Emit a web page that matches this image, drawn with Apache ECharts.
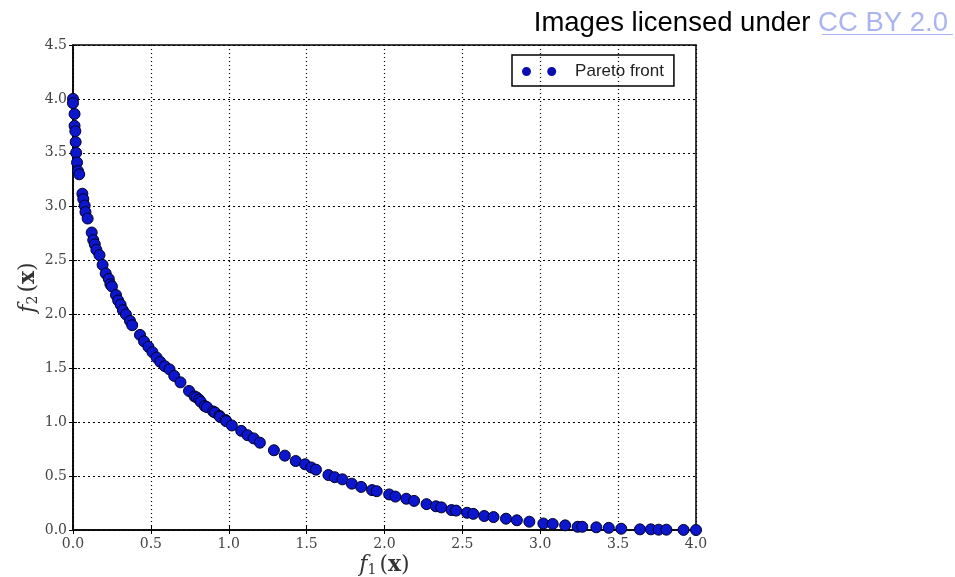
<!DOCTYPE html>
<html>
<head>
<meta charset="utf-8">
<script src="https://cdn.jsdelivr.net/npm/echarts@6/dist/echarts.min.js"></script>
<style>
  html, body { margin: 0; padding: 0; background: #fff; }
  #echarts_container { width: 955px; height: 577px; }
</style>
</head>
<body>
<div id="echarts_container"></div>
<script>
// values
var f1 = [0.00, 0.00, 0.01, 0.01, 0.015, 0.017, 0.02, 0.026, 0.032, 0.04,
  0.06, 0.066, 0.075, 0.08, 0.094, 0.12, 0.13, 0.14, 0.15, 0.17,
  0.19, 0.21, 0.23, 0.24, 0.25, 0.276, 0.29, 0.306, 0.32, 0.34,
  0.366, 0.38, 0.43, 0.456, 0.484, 0.51, 0.537, 0.56, 0.59, 0.62,
  0.65, 0.69, 0.745, 0.78, 0.794, 0.81, 0.82, 0.846, 0.86, 0.90,
  0.912, 0.94, 0.944, 0.98, 0.983, 1.02, 1.08, 1.12, 1.16, 1.20,
  1.29, 1.36, 1.43, 1.49, 1.53, 1.56, 1.64, 1.68, 1.73, 1.79,
  1.85, 1.92, 1.95, 2.03, 2.07, 2.14, 2.19, 2.27, 2.33, 2.365,
  2.43, 2.46, 2.53, 2.57, 2.64, 2.70, 2.78, 2.85, 2.93, 3.02,
  3.08, 3.16, 3.24, 3.27, 3.36, 3.44, 3.52, 3.64, 3.71, 3.76,
  3.81, 3.92, 4.00]
var f2 = [4.00, 3.96, 3.86, 3.75, 3.70, 3.60, 3.50, 3.41, 3.33, 3.30,
  3.12, 3.07, 3.01, 2.95, 2.89, 2.76, 2.69, 2.65, 2.60, 2.55,
  2.46, 2.38, 2.33, 2.28, 2.26, 2.18, 2.13, 2.09, 2.04, 2.00,
  1.94, 1.90, 1.81, 1.75, 1.70, 1.65, 1.60, 1.56, 1.52, 1.49,
  1.43, 1.37, 1.29, 1.24, 1.23, 1.21, 1.19, 1.15, 1.14, 1.10,
  1.09, 1.06, 1.05, 1.02, 1.01, 0.97, 0.92, 0.88, 0.85, 0.81,
  0.74, 0.69, 0.64, 0.61, 0.58, 0.56, 0.51, 0.49, 0.47, 0.43,
  0.40, 0.37, 0.36, 0.33, 0.31, 0.29, 0.27, 0.24, 0.22, 0.21,
  0.185, 0.18, 0.16, 0.15, 0.13, 0.12, 0.105, 0.09, 0.077, 0.06,
  0.056, 0.043, 0.03, 0.03, 0.025, 0.02, 0.012, 0.006, 0.006, 0.003,
  0.003, 0.001, 0.0]

var pts = f1.map(function (v, i) { return [v, f2[i]] })

var chartDom = document.getElementById('echarts_container');
var myChart = echarts.init(chartDom);

var serif = "'DejaVu Serif', 'Liberation Serif', serif"
var sans = "'Liberation Sans', Arial, sans-serif"
var labelStyle = { fontFamily: serif, fontSize: 14, color: '#444' }
var mathRich = {
    i: { fontFamily: serif, fontStyle: 'italic', fontSize: 22, color: '#333' },
    s: { fontFamily: serif, fontSize: 14, color: '#333', verticalAlign: 'bottom', padding: [10, 3, 0, 0] },
    n: { fontFamily: serif, fontSize: 22, color: '#333' },
    b: { fontFamily: serif, fontWeight: 'bold', fontSize: 22, color: '#333' }
}

var option = {
    animation: false,
    title: {
        right: 2,
        top: 4,
        text: '{a|Images licensed under }{l|CC BY 2.0}',
        textStyle: {
            fontWeight: 'normal',
            rich: {
                a: { fontFamily: sans, fontWeight: 'normal', fontSize: 27.5, color: '#000' },
                l: { fontFamily: sans, fontWeight: 'normal', fontSize: 27.5, color: '#aab4f0' }
            }
        }
    },
    graphic: [
        { type: 'rect', right: 2, top: 34, shape: { width: 131, height: 1 }, style: { fill: '#aab4f0' } }
    ],
    legend: {
        left: 512,
        top: 55,
        padding: [8, 10, 6, 10],
        borderColor: '#000',
        borderWidth: 1.5,
        borderRadius: 0,
        itemWidth: 36,
        itemHeight: 9,
        icon: 'path://M0,5a5,5 0 1,0 10,0a5,5 0 1,0 -10,0zM28,5a5,5 0 1,0 10,0a5,5 0 1,0 -10,0z',
        itemStyle: { color: '#0a10b0', borderWidth: 0 },
        textStyle: { fontFamily: sans, fontSize: 17, color: '#222', padding: [0, 0, 0, 13] },
        data: ['Pareto front']
    },
    grid: {
        left: 73,
        right: 259,
        top: 45,
        bottom: 47,
        outerBoundsMode: 'none',
        show: true,
        borderColor: '#000',
        borderWidth: 1.5,
        backgroundColor: '#fff'
    },
    xAxis: [{
        type: 'value',
        min: 0, max: 4, interval: 0.5,
        name: '{i|f}{s|1}{n|(}{b|x}{n|)}',
        nameLocation: 'middle',
        nameGap: 23,
        nameMoveOverlap: false,
        nameTextStyle: { rich: mathRich },
        axisLine: { show: true, lineStyle: { color: '#000', width: 1.5 } },
        axisTick: { inside: true, length: 4, lineStyle: { color: '#000' } },
        axisLabel: Object.assign({ margin: 7, formatter: function (v) { return v.toFixed(1) } }, labelStyle),
        splitLine: { show: true, lineStyle: { type: [1, 3], color: '#000', width: 1.2 } }
    }, {
        type: 'value', position: 'top',
        min: 0, max: 4, interval: 0.5,
        axisLine: { show: false },
        axisTick: { inside: true, length: 4, lineStyle: { color: '#000' } },
        axisLabel: { show: false },
        splitLine: { show: false }
    }],
    yAxis: [{
        type: 'value',
        min: 0, max: 4.5, interval: 0.5,
        name: '{i|f}{s|2}{n|(}{b|x}{n|)}',
        nameLocation: 'middle',
        nameGap: 33,
        nameMoveOverlap: false,
        nameRotate: 90,
        nameTextStyle: { rich: mathRich },
        axisLine: { show: true, lineStyle: { color: '#000', width: 1.5 } },
        axisTick: { inside: true, length: 4, lineStyle: { color: '#000' } },
        axisLabel: Object.assign({ margin: 6, formatter: function (v) { return v.toFixed(1) } }, labelStyle),
        splitLine: { show: true, lineStyle: { type: [2, 3], color: '#000', width: 1.2 } }
    }, {
        type: 'value', position: 'right',
        min: 0, max: 4.5, interval: 0.5,
        axisLine: { show: false },
        axisTick: { inside: true, length: 4, lineStyle: { color: '#000' } },
        axisLabel: { show: false },
        splitLine: { show: false }
    }],
    series: [{
        name: 'Pareto front',
        type: 'scatter',
        symbol: 'circle',
        symbolSize: 11,
        clip: true,
        itemStyle: { color: '#0c16cc', borderColor: '#000022', borderWidth: 1, opacity: 1 },
        data: pts
    }]
};

option && myChart.setOption(option);
</script>
</body>
</html>
